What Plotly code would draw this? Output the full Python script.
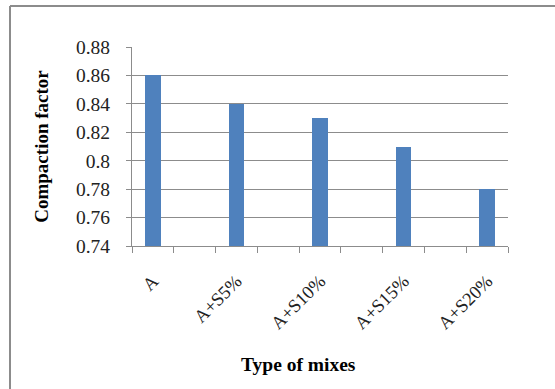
import plotly.graph_objects as go

# Compaction factor for each mix
mixes = ["A", "A+S5%", "A+S10%", "A+S15%", "A+S20%"]
compaction = [0.86, 0.84, 0.83, 0.81, 0.78]

y_ticks = [0.74, 0.76, 0.78, 0.80, 0.82, 0.84, 0.86, 0.88]
y_tick_text = ["0.74", "0.76", "0.78", "0.8", "0.82", "0.84", "0.86", "0.88"]

# mixes sit on every other slot, with an empty slot between neighbours
positions = [2 * i for i in range(len(mixes))]
n_slots = 2 * len(mixes) - 1
x_range = [-0.5, n_slots - 0.5]

W, H = 555, 389
ml, mr, mt, mb = 132, 47, 47, 143
pw, ph = W - ml - mr, H - mt - mb

def px_x(px):
    return (px - ml) / pw

def px_y(py):
    return (H - mb - py) / ph

axis_grey = "#8c8c8c"
serif = "Liberation Serif, Times New Roman, serif"

fig = go.Figure()
fig.add_trace(go.Bar(
    x=positions, y=compaction, width=0.38,
    marker=dict(color="#4f81bd", line=dict(width=0)),
    showlegend=False,
))

fig.update_layout(
    width=W, height=H,
    margin=dict(l=ml, r=mr, t=mt, b=mb),
    paper_bgcolor="white", plot_bgcolor="white",
    font=dict(family=serif, color="black"),
    xaxis=dict(
        range=x_range,
        tickmode="array", tickvals=positions, ticktext=mixes,
        tickangle=-45, ticks="", showgrid=False,
        minor=dict(tickmode="linear", tick0=-0.5, dtick=1,
                   ticks="outside", ticklen=6, tickcolor=axis_grey,
                   showgrid=False),
        showline=True, linecolor=axis_grey, linewidth=1,
        tickfont=dict(size=18.5, color="#222222"), ticklabelstandoff=16,
        zeroline=False,
    ),
    yaxis=dict(
        range=[0.74, 0.88],
        tickmode="array", tickvals=y_ticks, ticktext=y_tick_text,
        ticks="outside", ticklen=5, tickcolor=axis_grey,
        showline=True, linecolor=axis_grey, linewidth=1,
        showgrid=True, gridcolor=axis_grey, gridwidth=1,
        tickfont=dict(size=19.5, color="#222222"), ticklabelstandoff=12,
        title=dict(text="<b>Compaction factor</b>", font=dict(size=19), standoff=22),
        zeroline=False,
    ),
    bargap=0,
    annotations=[
        dict(text="<b>Type of mixes</b>", xref="paper", yref="paper",
             x=px_x(298), y=px_y(364), xanchor="center", yanchor="middle",
             showarrow=False, font=dict(size=19.5, family=serif)),
    ],
    shapes=[
        dict(type="line", xref="paper", yref="paper",
             x0=px_x(10), x1=px_x(W + 5), y0=px_y(6), y1=px_y(6),
             line=dict(color=axis_grey, width=2)),
        dict(type="line", xref="paper", yref="paper",
             x0=px_x(10), x1=px_x(10), y0=px_y(6), y1=px_y(H + 5),
             line=dict(color=axis_grey, width=2)),
    ],
)

fig.write_html("out.html")
